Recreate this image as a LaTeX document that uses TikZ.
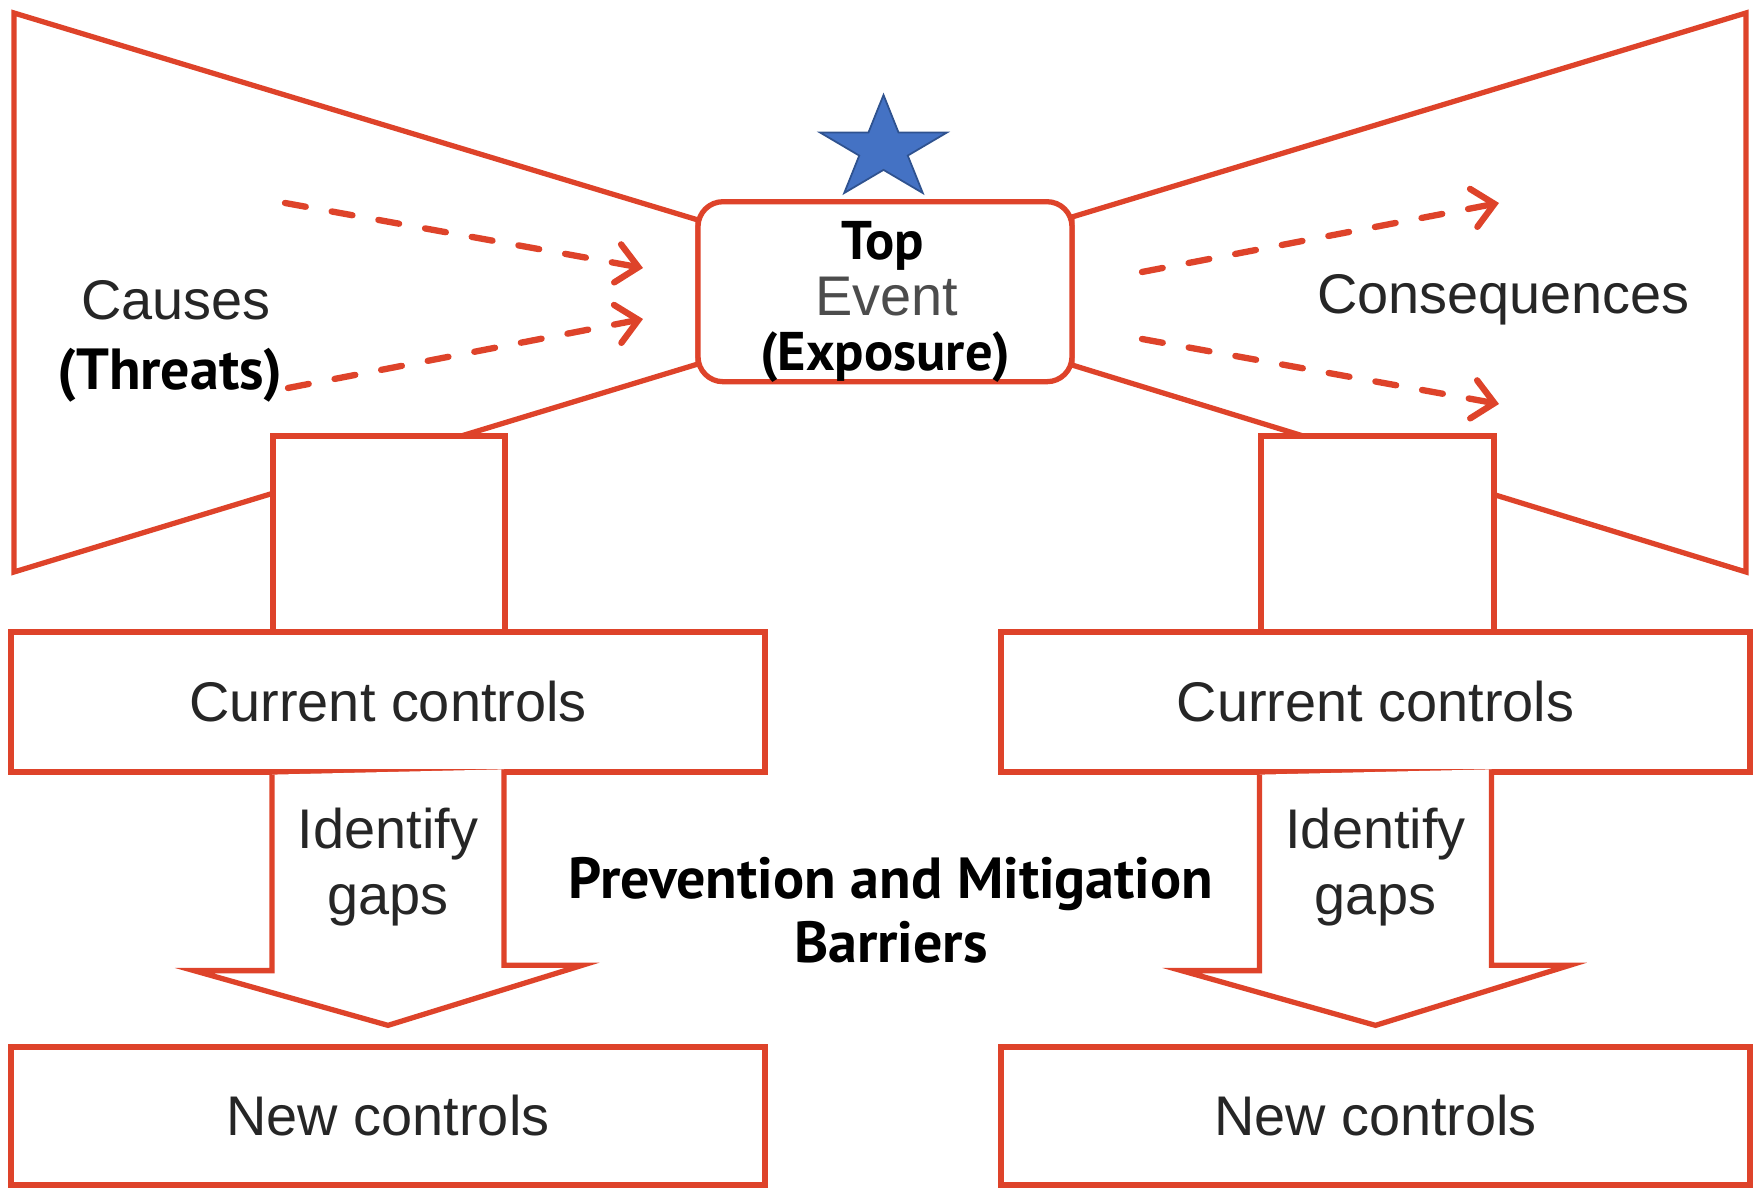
\documentclass[tikz,border=0pt]{standalone}
\usepackage{fontspec}
\setmainfont{Liberation Sans}
\newfontfamily\barrierfont{PT Sans}
\usetikzlibrary{arrows.meta}
\usetikzlibrary{positioning}

\definecolor{bowred}{RGB}{222,67,42}
\definecolor{starblue}{RGB}{68,114,196}
\definecolor{staredge}{RGB}{47,82,143}

\tikzset{
  bowline/.style={draw=bowred,line width=1.5pt,line join=miter},
  ctrlbox/.style={bowline,fill=white,rectangle,minimum height=1.4cm,font=\fontsize{15.9}{19}\selectfont,text=black!85},
  plaintext/.style={font=\fontsize{15.9}{19}\selectfont,text=black!85,align=center},
  boldtext/.style={font=\barrierfont\bfseries\fontsize{16.5}{18.2}\selectfont,text=black,align=center},
  flowarrow/.style={draw=bowred,line width=1.8pt,line cap=round,dash pattern=on 6pt off 7.5pt,-{Straight Barb[length=6pt,width=11pt,line cap=round]}}
}

\begin{document}
\begin{tikzpicture}
\useasboundingbox (0,0) rectangle (17.54,11.89);

% bow tie wings and stems
\draw[bowline] (0.14,11.76) -- (6.98,9.69) -- (6.98,8.25) -- (0.14,6.17) -- cycle;
\draw[bowline] (17.46,11.76) -- (10.72,9.72) -- (10.72,8.24) -- (17.46,6.17) -- cycle;
\draw[bowline,fill=white] (2.73,5.57) rectangle (5.05,7.53);
\draw[bowline,fill=white] (12.61,5.57) rectangle (14.94,7.53);

\node[bowline,fill=white,rounded corners=0.25cm,minimum width=3.74cm,minimum height=1.8cm] (topevent) at (8.85,8.973) {};
\node[boldtext,font=\barrierfont\bfseries\fontsize{15.5}{18}\selectfont,inner sep=0pt] (toplabel) at (8.83,9.43) {Top};
\node[plaintext,text=black!70,inner sep=0pt] (eventlabel) at (8.87,8.92) {Event};
\node[boldtext,font=\barrierfont\bfseries\fontsize{15.5}{18}\selectfont,inner sep=0pt] (exposure) at (8.85,8.32) {(Exposure)};

% star above the top event
\coordinate (star) at (8.835,10.398);
\begin{scope}[shift={(star)},xscale=1.233]
\filldraw[fill=starblue,draw=staredge,line width=0.5pt] (90:0.542) -- (126:0.207) -- (162:0.542) -- (198:0.207) -- (234:0.542) -- (270:0.207) -- (306:0.542) -- (342:0.207) -- (18:0.542) -- (54:0.207) -- cycle;
\end{scope}

\node[plaintext] (causes) at (1.76,8.89) {Causes};
\node[boldtext] (threats) at (1.70,8.14) {(Threats)};
\node[plaintext] (consequences) at (15.035,8.89) {Consequences};

\coordinate (causeA) at (2.85,9.86);
\coordinate (causeB) at (2.88,8.01);
\coordinate (inA) at (6.43,9.21);
\coordinate (inB) at (6.43,8.70);
\coordinate (outA) at (11.42,9.17);
\coordinate (outB) at (11.42,8.50);
\coordinate (conseqA) at (14.99,9.86);
\coordinate (conseqB) at (14.99,7.85);
\draw[flowarrow] (causeA) -- (inA);
\draw[flowarrow] (causeB) -- (inB);
\draw[flowarrow] (outA) -- (conseqA);
\draw[flowarrow] (outB) -- (conseqB);

% controls
\node[ctrlbox,minimum width=7.54cm] (curL) at (3.88,4.87) {Current controls};
\node[ctrlbox,minimum width=7.49cm] (curR) at (13.755,4.87) {Current controls};
\node[ctrlbox,minimum width=7.54cm,minimum height=1.38cm] (newL) at (3.88,0.73) {New controls};
\node[ctrlbox,minimum width=7.49cm,minimum height=1.38cm] (newR) at (13.755,0.73) {New controls};

\foreach \a/\b in {curL/newL,curR/newR}
  \draw[bowline,fill=white] (\a.south) ++(-1.16,0) -- ++(0,-1.96) -- ++(-0.78,0) -- ([yshift=0.19cm]\b.north) -- ++(1.94,0.6) -- ++(-0.78,0) -- ++(0,1.96);

\node[plaintext] (gapsL) at (3.88,3.22) {Identify\\gaps};
\node[plaintext] (gapsR) at (13.755,3.22) {Identify\\gaps};

\node[boldtext] (barriers) at (8.91,2.79) {Prevention and Mitigation\\Barriers};

\end{tikzpicture}
\end{document}
